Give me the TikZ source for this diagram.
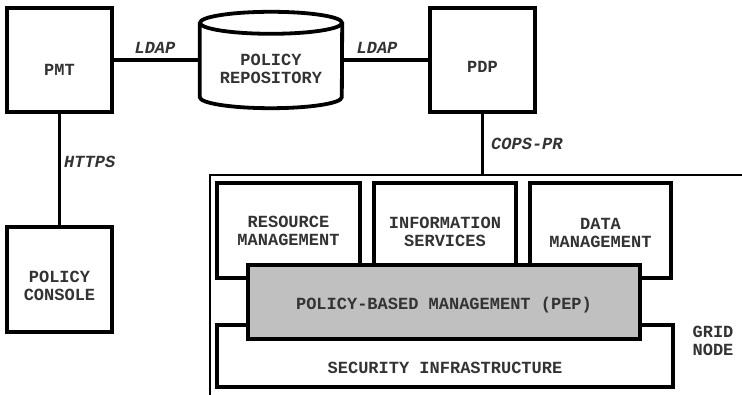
\documentclass[tikz,border=0pt]{standalone}
\usepackage{fontspec}
\newfontfamily\cour{Liberation Mono}
\definecolor{txtc}{HTML}{333333}
\definecolor{pepfill}{HTML}{C0C0C0}
\begin{document}
\begin{tikzpicture}[x=1pt,y=-1pt,
  box/.style={draw, line width=3.8pt, rectangle, inner sep=0pt, fill=white},
  lbl/.style={font=\cour\bfseries\fontsize{17}{18}\selectfont, text=txtc, align=center, inner sep=0pt},
  ital/.style={font=\cour\bfseries\itshape\fontsize{17}{18}\selectfont, text=txtc, inner sep=0pt},
  conn/.style={line width=3.8pt},
  gframe/.style={line width=2pt}]
\useasboundingbox (0,0) rectangle (742,395);

% top row
\node[box, minimum width=105pt, minimum height=104pt,
  label={[lbl,yshift=-10pt]center:PMT}] (pmt) at (59.5,60) {};
\node[box, minimum width=105pt, minimum height=104pt,
  label={[lbl,yshift=-7pt]center:PDP}] (pdp) at (482.5,60) {};
\node[inner sep=0pt, minimum width=142pt, minimum height=96pt,
  label={[lbl,yshift=-9pt]center:{POLICY\\REPOSITORY}}] (repo) at (271,60) {};
\draw[conn] ([yshift=-11pt]repo.north west) -- ([yshift=11pt]repo.south west)
  arc[start angle=180, end angle=360, x radius=71pt, y radius=11pt]
  -- ([yshift=-11pt]repo.north east);
\draw[conn] ([yshift=-11pt]repo.north) ellipse[x radius=71pt, y radius=11pt];

\node[box, minimum width=105pt, minimum height=105pt,
  label={[lbl,yshift=-6.5pt]center:{POLICY\\CONSOLE}}] (console) at (59.5,279.5) {};

% connectors
\draw[conn] (pmt) -- (repo);
\draw[conn] (repo) -- (pdp);
\draw[conn] (pmt) -- (console);
\coordinate (copsend) at (483,175);
\draw[conn] (pdp.south) -- (pdp.south |- copsend);

\node[ital] (ldap1) at (155,48) {LDAP};
\node[ital] (ldap2) at (377,48) {LDAP};
\node[ital, anchor=west] (https) at (64,162) {HTTPS};
\node[ital, anchor=west] (cops) at (491,144) {COPS-PR};

% grid node frame
\coordinate (gtl) at (210,175);
\coordinate (gtr) at (742,175);
\coordinate (gbl) at (210,395);
\draw[gframe] (gtr) -- (gtl) -- (gbl);

\node[box, minimum width=143pt, minimum height=95pt,
  label={[lbl,yshift=-0.5pt]center:{RESOURCE\\MANAGEMENT}}] (res) at (288.5,230.5) {};
\node[box, minimum width=142pt, minimum height=95pt,
  label={[lbl,yshift=-1pt]center:{INFORMATION\\SERVICES}}] (info) at (445,230.5) {};
\node[box, minimum width=141pt, minimum height=95pt,
  label={[lbl,yshift=-2pt]center:{DATA\\MANAGEMENT}}] (data) at (600.5,230.5) {};
\node[box, minimum width=456pt, minimum height=62pt,
  label={[lbl,yshift=-12pt]center:SECURITY INFRASTRUCTURE}] (sec) at (445,356) {};
\node[box, fill=pepfill, minimum width=392pt, minimum height=74pt,
  label={[lbl,yshift=-3pt]center:POLICY-BASED MANAGEMENT (PEP)}] (pep) at (444,302) {};

\node[lbl] (grid) at (713,341) {GRID\\NODE};
\end{tikzpicture}
\end{document}
